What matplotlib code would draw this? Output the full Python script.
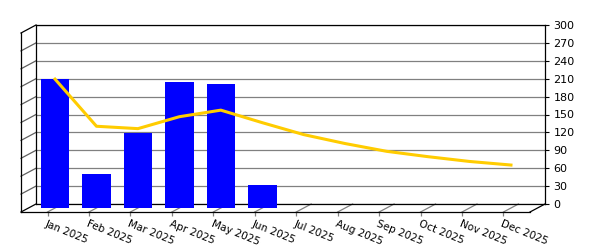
import matplotlib
matplotlib.use("Agg")
import matplotlib.pyplot as plt
from matplotlib.transforms import offset_copy

months = ["Jan 2025", "Feb 2025", "Mar 2025", "Apr 2025", "May 2025", "Jun 2025",
          "Jul 2025", "Aug 2025", "Sep 2025", "Oct 2025", "Nov 2025", "Dec 2025"]
bar_values = [216, 57, 126, 211, 207, 39]
line_values = [216, 137, 133, 153, 164, 143, 123, 108, 95, 86, 78, 72]
y_ticks = [0, 30, 60, 90, 120, 150, 180, 210, 240, 270, 300]

W, H = 600, 250
DX, DY = 15, 8          # depth of the fake 3d box, in pixels
xmin, xmax = -0.64, 11.64
ymin, ymax = 0, 300

fig = plt.figure(figsize=(W / 100, H / 100), dpi=100)
fig.patch.set_facecolor("white")

# back wall
bl, bb, bw, bh = 36 / W, (H - 204) / H, 509 / W, 179 / H
ax = fig.add_axes([bl, bb, bw, bh])
ax.set_xlim(xmin, xmax)
ax.set_ylim(ymin, ymax)
ax.set_facecolor("none")
ax.yaxis.tick_right()
ax.set_yticks(y_ticks)
ax.set_yticklabels([str(v) for v in y_ticks], fontsize=8)
ax.tick_params(axis="y", length=3, width=0.8, pad=3, colors="black")
ax.set_xticks([])
ax.grid(axis="y", color="#808080", linewidth=0.9)
for s in ax.spines.values():
    s.set_color("black")
    s.set_linewidth(0.9)

# front plane (axes shifted by the depth)
fr = fig.add_axes([bl - DX / W, bb - DY / H, bw, bh])
fr.set_xlim(xmin, xmax)
fr.set_ylim(ymin, ymax)
fr.patch.set_alpha(0)
fr.spines["top"].set_visible(False)
fr.spines["right"].set_visible(False)
fr.spines["left"].set_linewidth(0.9)
fr.spines["bottom"].set_linewidth(0.9)
fr.set_yticks([])
fr.set_xticks(range(len(months)))
fr.set_xticklabels(months, fontsize=7.5, rotation=-22, ha="left",
                   va="top", rotation_mode="anchor")
fr.tick_params(axis="x", length=3, width=0.9, color="#808080", pad=2)

# connecting lines between front and back planes
px_x = 509 / (xmax - xmin)
px_y = 179 / (ymax - ymin)
ddx = DX / px_x
ddy = DY / px_y
for v in y_ticks:
    c = "black" if v in (0, 300) else "#606060"
    ax.plot([xmin - ddx, xmin], [v - ddy, v], color=c, lw=0.9, clip_on=False)
ax.plot([xmax - ddx, xmax], [-ddy, 0], color="black", lw=0.9, clip_on=False)
for i in range(len(months)):
    ax.plot([i - ddx, i], [-ddy, 0], color="#808080", lw=0.9, clip_on=False)

# bars and line sit halfway through the depth
mid = offset_copy(ax.transData, fig=fig, x=-DX / 2, y=-DY / 2, units="dots")
ax.bar(range(len(bar_values)), bar_values, width=0.69, color="#0000FF",
       transform=mid, clip_on=False, zorder=3)
ax.plot(range(len(line_values)), line_values, color="#FFCC00", lw=2.2,
        transform=mid, clip_on=False, zorder=4, solid_joinstyle="round")

fig.savefig("out.png", dpi=100)
